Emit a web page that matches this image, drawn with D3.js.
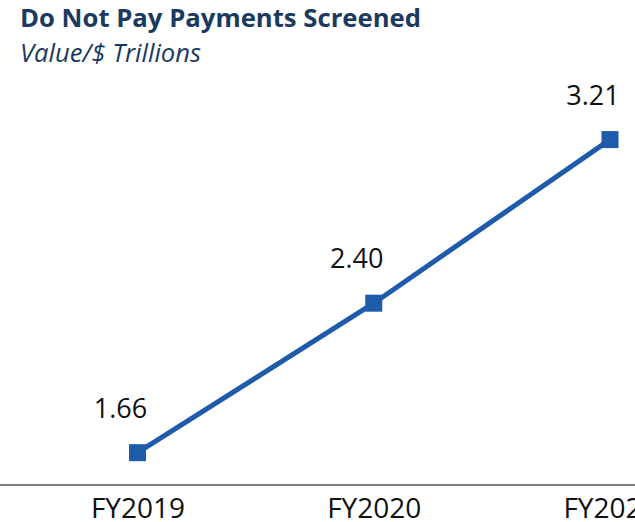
<!DOCTYPE html>
<html>
<head>
<meta charset="utf-8">
<script src="https://cdn.jsdelivr.net/npm/d3@7"></script>
<style>
  html, body { margin: 0; padding: 0; background: #fff; }
  svg { display: block; font-family: "Open Sans", "Noto Sans", sans-serif; }
</style>
</head>
<body>
<svg id="chart"></svg>
<script>
// Do Not Pay - payments screened, value in $ trillions
const categories = ["FY2019", "FY2020", "FY2021"];
const values = [1.66, 2.40, 3.21];
const valueLabels = ["1.66", "2.40", "3.21"];
const titleText = "Do Not Pay Payments Screened";
const subtitleText = "Value/$ Trillions";

function drawChart() {
    const width = 635;
    const height = 522;
    const lineColor = "#1f5bab";
    const navy = "#1b3a5f";

    const svg = d3.select("#chart")
        .attr("width", width)
        .attr("height", height);

    const x = d3.scalePoint()
        .domain(categories)
        .range([137.5, 610]);

    const y = d3.scaleLinear()
        .domain([1.5, 3.5])
        .range([485, 81]);

    // titles
    svg.append("text")
        .attr("x", 20)
        .attr("y", 27)
        .attr("fill", navy)
        .attr("font-weight", 700)
        .attr("font-size", "25px")
        .attr("textLength", 401)
        .attr("lengthAdjust", "spacingAndGlyphs")
        .text(titleText);

    svg.append("text")
        .attr("x", 20)
        .attr("y", 62)
        .attr("fill", navy)
        .attr("font-style", "italic")
        .attr("font-size", "25px")
        .attr("textLength", 181)
        .attr("lengthAdjust", "spacingAndGlyphs")
        .text(subtitleText);

    // baseline across the whole width
    svg.append("line")
        .attr("x1", 0)
        .attr("x2", width)
        .attr("y1", y(1.5))
        .attr("y2", y(1.5))
        .attr("stroke", "#555")
        .attr("stroke-width", 1.5);

    const xAxis = d3.axisBottom(x).tickSize(0);
    svg.append("g")
        .attr("transform", "translate(0," + y(1.5) + ")")
        .call(xAxis)
        .call(function (g) { g.select(".domain").remove(); })
        .call(function (g) {
            g.selectAll("text")
                .attr("y", 33)
                .attr("dy", 0)
                .attr("fill", "#111")
                .attr("font-size", "28px")
                .attr("font-family", "Open Sans, Noto Sans, sans-serif");
        });

    const data = categories.map(function (c, i) {
        return { cat: c, value: values[i], label: valueLabels[i] };
    });

    const line = d3.line()
        .x(function (d) { return x(d.cat); })
        .y(function (d) { return y(d.value); });

    svg.append("path")
        .datum(data)
        .attr("d", line)
        .attr("fill", "none")
        .attr("stroke", lineColor)
        .attr("stroke-width", 5);

    const markerSize = 17;
    svg.selectAll(".marker")
        .data(data)
        .enter()
        .append("rect")
        .attr("class", "marker")
        .attr("x", function (d) { return x(d.cat) - markerSize / 2; })
        .attr("y", function (d) { return y(d.value) - markerSize / 2; })
        .attr("width", markerSize)
        .attr("height", markerSize)
        .attr("fill", lineColor);

    // value labels, sitting up and left of each point, kept inside the frame
    const labels = svg.selectAll(".val-label")
        .data(data)
        .enter()
        .append("text")
        .attr("class", "val-label")
        .attr("y", function (d) { return y(d.value) - 35; })
        .attr("fill", "#111")
        .attr("font-size", "27px")
        .attr("text-anchor", "middle")
        .text(function (d) { return d.label; });

    labels.each(function (d) {
        const w = this.getComputedTextLength();
        let cx = x(d.cat) - 17;
        if (cx + w / 2 > width - 6) cx = width - 6 - w / 2;
        d3.select(this).attr("x", cx);
    });
}

drawChart();
</script>
</body>
</html>
